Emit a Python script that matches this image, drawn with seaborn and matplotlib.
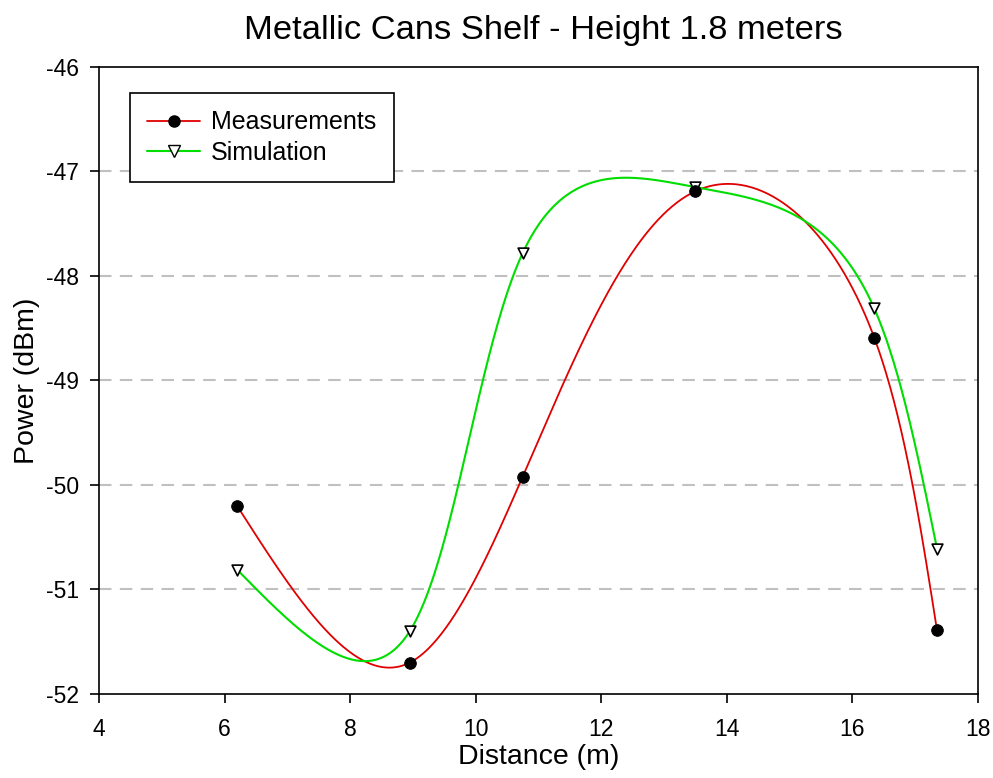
import numpy as np
import pandas as pd
import matplotlib
matplotlib.use("Agg")
import matplotlib.pyplot as plt
from matplotlib.lines import Line2D
import seaborn as sns

# Data
distance = [6.2, 8.95, 10.75, 13.5, 16.35, 17.35]
measurements = [-50.2, -51.7, -49.92, -47.19, -48.59, -51.39]
simulation = [-50.81, -51.40, -47.78, -47.15, -48.31, -50.61]


def spline_1d(t, v, ts):
    # spline cubique naturelle
    k = len(t)
    h = np.diff(t)
    A = np.zeros((k, k))
    b = np.zeros(k)
    A[0, 0] = A[-1, -1] = 1
    for i in range(1, k - 1):
        A[i, i - 1] = h[i - 1]
        A[i, i] = 2 * (h[i - 1] + h[i])
        A[i, i + 1] = h[i]
        b[i] = 6 * ((v[i + 1] - v[i]) / h[i] - (v[i] - v[i - 1]) / h[i - 1])
    M = np.linalg.solve(A, b)
    idx = np.clip(np.searchsorted(t, ts) - 1, 0, k - 2)
    t0, t1 = t[idx], t[idx + 1]
    hh = t1 - t0
    a0, a1 = t1 - ts, ts - t0
    return (M[idx] * a0 ** 3 + M[idx + 1] * a1 ** 3) / (6 * hh) \
        + (v[idx] / hh - M[idx] * hh / 6) * a0 \
        + (v[idx + 1] / hh - M[idx + 1] * hh / 6) * a1


def smooth_curve(x, y, n=500, wy=0.6):
    # spline paramétrique (longueur de corde, y un peu moins pondéré)
    x = np.asarray(x, float)
    y = np.asarray(y, float)
    d = np.hypot(np.diff(x), np.diff(y) * wy)
    t = np.concatenate([[0], np.cumsum(d)])
    ts = np.linspace(0, t[-1], n)
    return spline_1d(t, x, ts), spline_1d(t, y, ts)


sns.set_theme(style="white")
plt.rcParams["font.family"] = ["Liberation Sans", "DejaVu Sans"]
plt.rcParams["axes.unicode_minus"] = False
plt.rcParams["text.color"] = "black"
plt.rcParams["axes.labelcolor"] = "black"

fig = plt.figure(figsize=(9.93, 7.78), dpi=100)
ax = fig.add_axes([0.0997, 0.108, 0.885, 0.806])

red = "#e00000"
green = "#00dd00"

xs, ys = smooth_curve(distance, measurements)
sns.lineplot(x=xs, y=ys, ax=ax, color=red, linewidth=1.3, sort=False)
xs2, ys2 = smooth_curve(distance, simulation)
sns.lineplot(x=xs2, y=ys2, ax=ax, color=green, linewidth=1.5, sort=False)

sns.scatterplot(x=distance, y=simulation, ax=ax, marker="v", s=60,
                color="white", edgecolor="black", linewidth=1.2, zorder=5)
sns.scatterplot(x=distance, y=measurements, ax=ax, marker="o", s=70,
                color="black", edgecolor="black", zorder=6)

for yv in [-51, -50, -49, -48, -47]:
    ax.axhline(yv, color="#c0c0c0", linestyle=(0, (6, 4)), linewidth=1.5, zorder=0)

ax.set_xlim(4, 18)
ax.set_ylim(-52, -46)
ax.set_xticks(range(4, 19, 2))
ax.set_yticks(range(-52, -45))
ax.tick_params(axis="both", direction="out", length=6.5, width=1.2, colors="black",
               labelsize=16.5, bottom=True, left=True)
ax.tick_params(axis="x", pad=11)
ax.tick_params(axis="y", pad=8)
for s in ax.spines.values():
    s.set_color("black")
    s.set_linewidth(1.2)

ax.set_xlabel("Distance (m)", fontsize=20.5, labelpad=2)
ax.set_ylabel("Power (dBm)", fontsize=20.5, labelpad=4)
ax.set_title("Metallic Cans Shelf - Height 1.8 meters", fontsize=24.8, pad=20, x=0.506)

handles = [
    Line2D([], [], color=red, marker="o", markersize=8, markerfacecolor="black",
           markeredgecolor="black", linewidth=1.3),
    Line2D([], [], color=green, marker="v", markersize=8, markerfacecolor="white",
           markeredgecolor="black", linewidth=1.5),
]
leg = ax.legend(handles, ["Measurements", "Simulation"], loc="upper left",
                bbox_to_anchor=(0.035, 0.9585), borderaxespad=0, fontsize=18,
                fancybox=False, framealpha=1, edgecolor="black",
                handlelength=2.1, handletextpad=0.45, borderpad=0.7,
                labelspacing=0.25)
leg.get_frame().set_linewidth(1.2)

fig.savefig("out.png", dpi=100)
